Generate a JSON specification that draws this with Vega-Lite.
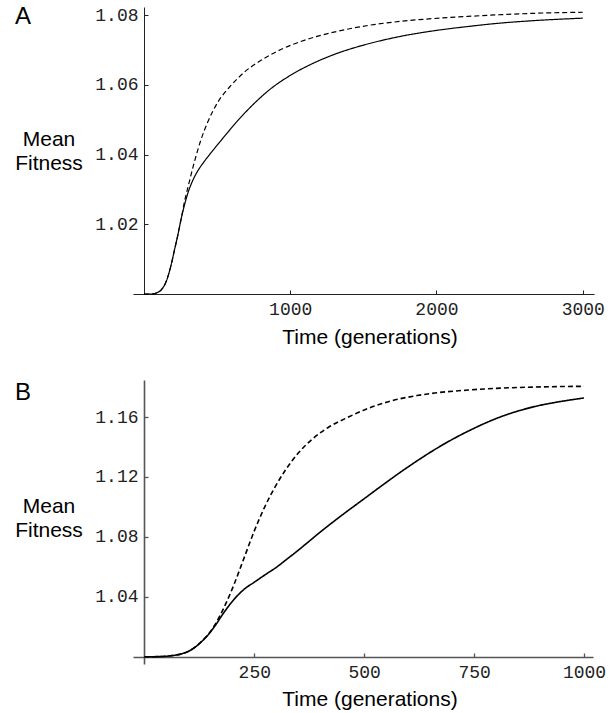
{
  "$schema": "https://vega.github.io/schema/vega-lite/v6.json",
  "padding": {"left": 14, "top": 5, "right": 5, "bottom": 5},
  "background": "white",
  "config": {"view": {"stroke": null}, "axis": {"grid": false}},
  "bounds": "flush",
  "spacing": 86,
  "vconcat": [
    {
      "width": 461,
      "height": 287,
      "title": {"text": "A", "anchor": "start", "frame": "group", "orient": "top", "font": "Liberation Sans", "fontSize": 24, "fontWeight": "normal", "color": "black", "dx": -118, "baseline": "top", "offset": -23},
      "data": {"values": [
        {"t": 0, "f": 1.0, "k": "solid"},
        {"t": 50, "f": 1.0, "k": "solid"},
        {"t": 84, "f": 1.0003, "k": "solid"},
        {"t": 118, "f": 1.0012, "k": "solid"},
        {"t": 152, "f": 1.0036, "k": "solid"},
        {"t": 186, "f": 1.0084, "k": "solid"},
        {"t": 209, "f": 1.0127, "k": "solid"},
        {"t": 232, "f": 1.0170, "k": "solid"},
        {"t": 255, "f": 1.0217, "k": "solid"},
        {"t": 277, "f": 1.0255, "k": "solid"},
        {"t": 300, "f": 1.0289, "k": "solid"},
        {"t": 334, "f": 1.0326, "k": "solid"},
        {"t": 368, "f": 1.0353, "k": "solid"},
        {"t": 414, "f": 1.0381, "k": "solid"},
        {"t": 470, "f": 1.0411, "k": "solid"},
        {"t": 550, "f": 1.0452, "k": "solid"},
        {"t": 641, "f": 1.0497, "k": "solid"},
        {"t": 755, "f": 1.0547, "k": "solid"},
        {"t": 868, "f": 1.0589, "k": "solid"},
        {"t": 1005, "f": 1.0628, "k": "solid"},
        {"t": 1164, "f": 1.0663, "k": "solid"},
        {"t": 1301, "f": 1.0687, "k": "solid"},
        {"t": 1530, "f": 1.0717, "k": "solid"},
        {"t": 1757, "f": 1.0739, "k": "solid"},
        {"t": 1985, "f": 1.0755, "k": "solid"},
        {"t": 2214, "f": 1.0767, "k": "solid"},
        {"t": 2441, "f": 1.0777, "k": "solid"},
        {"t": 2669, "f": 1.0784, "k": "solid"},
        {"t": 3000, "f": 1.0791, "k": "solid"},
        {"t": 0, "f": 1.0, "k": "dashed"},
        {"t": 50, "f": 1.0, "k": "dashed"},
        {"t": 84, "f": 1.0003, "k": "dashed"},
        {"t": 118, "f": 1.0012, "k": "dashed"},
        {"t": 152, "f": 1.0036, "k": "dashed"},
        {"t": 186, "f": 1.0084, "k": "dashed"},
        {"t": 209, "f": 1.0127, "k": "dashed"},
        {"t": 232, "f": 1.0170, "k": "dashed"},
        {"t": 255, "f": 1.0217, "k": "dashed"},
        {"t": 277, "f": 1.0265, "k": "dashed"},
        {"t": 300, "f": 1.0305, "k": "dashed"},
        {"t": 345, "f": 1.0379, "k": "dashed"},
        {"t": 391, "f": 1.0444, "k": "dashed"},
        {"t": 436, "f": 1.0493, "k": "dashed"},
        {"t": 505, "f": 1.0550, "k": "dashed"},
        {"t": 595, "f": 1.0598, "k": "dashed"},
        {"t": 686, "f": 1.0636, "k": "dashed"},
        {"t": 800, "f": 1.0670, "k": "dashed"},
        {"t": 936, "f": 1.0701, "k": "dashed"},
        {"t": 1100, "f": 1.0728, "k": "dashed"},
        {"t": 1320, "f": 1.0753, "k": "dashed"},
        {"t": 1530, "f": 1.0770, "k": "dashed"},
        {"t": 1757, "f": 1.0782, "k": "dashed"},
        {"t": 1985, "f": 1.0790, "k": "dashed"},
        {"t": 2214, "f": 1.0796, "k": "dashed"},
        {"t": 2441, "f": 1.0801, "k": "dashed"},
        {"t": 2669, "f": 1.0805, "k": "dashed"},
        {"t": 3000, "f": 1.0808, "k": "dashed"}
      ]},
      "mark": {"type": "line", "color": "black", "strokeWidth": 1.2, "interpolate": "monotone"},
      "encoding": {
        "x": {"field": "t", "type": "quantitative",
          "scale": {"domain": [-75, 3077], "nice": false, "zero": false},
          "axis": {"values": [1000, 2000, 3000], "format": "d", "tickSize": -4, "labelPadding": 10, "labelFlush": false,
            "domainColor": "#222", "tickColor": "#222", "labelFont": "Liberation Mono", "labelFontSize": 18, "labelColor": "#222",
            "title": "Time (generations)", "titleFont": "Liberation Sans", "titleFontSize": 21, "titleFontWeight": "normal", "titleColor": "black",
            "titleX": 236.5, "titleY": 49, "titleAlign": "center", "titleBaseline": "alphabetic"}},
        "y": {"field": "f", "type": "quantitative",
          "scale": {"domain": [1.0, 1.0823], "nice": false, "zero": false},
          "axis": {"values": [1.02, 1.04, 1.06, 1.08], "format": ".2f", "offset": -11, "tickSize": -4, "labelPadding": 10, "labelFlush": false,
            "domainColor": "#222", "tickColor": "#222", "labelFont": "Liberation Mono", "labelFontSize": 18, "labelColor": "#222",
            "title": ["Mean", "Fitness"], "titleFont": "Liberation Sans", "titleFontSize": 21, "titleFontWeight": "normal", "titleColor": "black",
            "titleAngle": 0, "titleAlign": "center", "titleBaseline": "middle", "titleX": -95.5, "titleY": 132, "titleLineHeight": 24}},
        "strokeDash": {"field": "k", "type": "nominal", "scale": {"domain": ["solid", "dashed"], "range": [[1, 0], [5, 3]]}, "legend": null}
      }
    },
    {
      "width": 460,
      "height": 284,
      "title": {"text": "B", "anchor": "start", "frame": "group", "orient": "top", "font": "Liberation Sans", "fontSize": 24, "fontWeight": "normal", "color": "black", "dx": -118, "baseline": "top", "offset": -25},
      "data": {"values": [
        {"t": 0, "f": 1.0, "k": "solid"},
        {"t": 40, "f": 1.0002, "k": "solid"},
        {"t": 60, "f": 1.0007, "k": "solid"},
        {"t": 82, "f": 1.0018, "k": "solid"},
        {"t": 105, "f": 1.0044, "k": "solid"},
        {"t": 128, "f": 1.0096, "k": "solid"},
        {"t": 143, "f": 1.0140, "k": "solid"},
        {"t": 159, "f": 1.0200, "k": "solid"},
        {"t": 181, "f": 1.0296, "k": "solid"},
        {"t": 204, "f": 1.0384, "k": "solid"},
        {"t": 227, "f": 1.0451, "k": "solid"},
        {"t": 250, "f": 1.0498, "k": "solid"},
        {"t": 280, "f": 1.0558, "k": "solid"},
        {"t": 300, "f": 1.0597, "k": "solid"},
        {"t": 319, "f": 1.0640, "k": "solid"},
        {"t": 340, "f": 1.0688, "k": "solid"},
        {"t": 357, "f": 1.0728, "k": "solid"},
        {"t": 402, "f": 1.0837, "k": "solid"},
        {"t": 448, "f": 1.0942, "k": "solid"},
        {"t": 494, "f": 1.1042, "k": "solid"},
        {"t": 540, "f": 1.1142, "k": "solid"},
        {"t": 584, "f": 1.1235, "k": "solid"},
        {"t": 620, "f": 1.1307, "k": "solid"},
        {"t": 660, "f": 1.1382, "k": "solid"},
        {"t": 700, "f": 1.1450, "k": "solid"},
        {"t": 736, "f": 1.1505, "k": "solid"},
        {"t": 812, "f": 1.1603, "k": "solid"},
        {"t": 888, "f": 1.1670, "k": "solid"},
        {"t": 950, "f": 1.1705, "k": "solid"},
        {"t": 1000, "f": 1.1727, "k": "solid"},
        {"t": 0, "f": 1.0, "k": "dashed"},
        {"t": 40, "f": 1.0002, "k": "dashed"},
        {"t": 60, "f": 1.0007, "k": "dashed"},
        {"t": 82, "f": 1.0018, "k": "dashed"},
        {"t": 105, "f": 1.0044, "k": "dashed"},
        {"t": 128, "f": 1.0096, "k": "dashed"},
        {"t": 143, "f": 1.0142, "k": "dashed"},
        {"t": 159, "f": 1.0207, "k": "dashed"},
        {"t": 181, "f": 1.0329, "k": "dashed"},
        {"t": 204, "f": 1.0484, "k": "dashed"},
        {"t": 227, "f": 1.0662, "k": "dashed"},
        {"t": 250, "f": 1.0840, "k": "dashed"},
        {"t": 273, "f": 1.0996, "k": "dashed"},
        {"t": 296, "f": 1.1127, "k": "dashed"},
        {"t": 319, "f": 1.1238, "k": "dashed"},
        {"t": 349, "f": 1.1356, "k": "dashed"},
        {"t": 380, "f": 1.1448, "k": "dashed"},
        {"t": 418, "f": 1.1530, "k": "dashed"},
        {"t": 463, "f": 1.1598, "k": "dashed"},
        {"t": 509, "f": 1.1658, "k": "dashed"},
        {"t": 562, "f": 1.1708, "k": "dashed"},
        {"t": 620, "f": 1.1743, "k": "dashed"},
        {"t": 660, "f": 1.1760, "k": "dashed"},
        {"t": 736, "f": 1.1780, "k": "dashed"},
        {"t": 812, "f": 1.1793, "k": "dashed"},
        {"t": 888, "f": 1.1800, "k": "dashed"},
        {"t": 1000, "f": 1.1805, "k": "dashed"}
      ]},
      "mark": {"type": "line", "color": "black", "strokeWidth": 1.6, "interpolate": "monotone"},
      "encoding": {
        "x": {"field": "t", "type": "quantitative",
          "scale": {"domain": [-26, 1020.5], "nice": false, "zero": false},
          "axis": {"values": [250, 500, 750, 1000], "format": "d", "offset": -7, "tickSize": -4, "labelPadding": 10, "labelFlush": false,
            "domainColor": "#555", "domainWidth": 1.6, "tickColor": "#555", "tickWidth": 1.3, "labelFont": "Liberation Mono", "labelFontSize": 18, "labelColor": "#222",
            "title": "Time (generations)", "titleFont": "Liberation Sans", "titleFontSize": 21, "titleFontWeight": "normal", "titleColor": "black",
            "titleX": 236.5, "titleY": 48, "titleAlign": "center", "titleBaseline": "alphabetic"}},
        "y": {"field": "f", "type": "quantitative",
          "scale": {"domain": [0.9952, 1.1847], "nice": false, "zero": false},
          "axis": {"values": [1.04, 1.08, 1.12, 1.16], "format": ".2f", "offset": -11, "tickSize": -4, "labelPadding": 10, "labelFlush": false,
            "domainColor": "#555", "domainWidth": 1.6, "tickColor": "#555", "tickWidth": 1.3, "labelFont": "Liberation Mono", "labelFontSize": 18, "labelColor": "#222",
            "title": ["Mean", "Fitness"], "titleFont": "Liberation Sans", "titleFontSize": 21, "titleFontWeight": "normal", "titleColor": "black",
            "titleAngle": 0, "titleAlign": "center", "titleBaseline": "middle", "titleX": -95.5, "titleY": 126, "titleLineHeight": 24}},
        "strokeDash": {"field": "k", "type": "nominal", "scale": {"domain": ["solid", "dashed"], "range": [[1, 0], [6, 4]]}, "legend": null}
      }
    }
  ]
}
